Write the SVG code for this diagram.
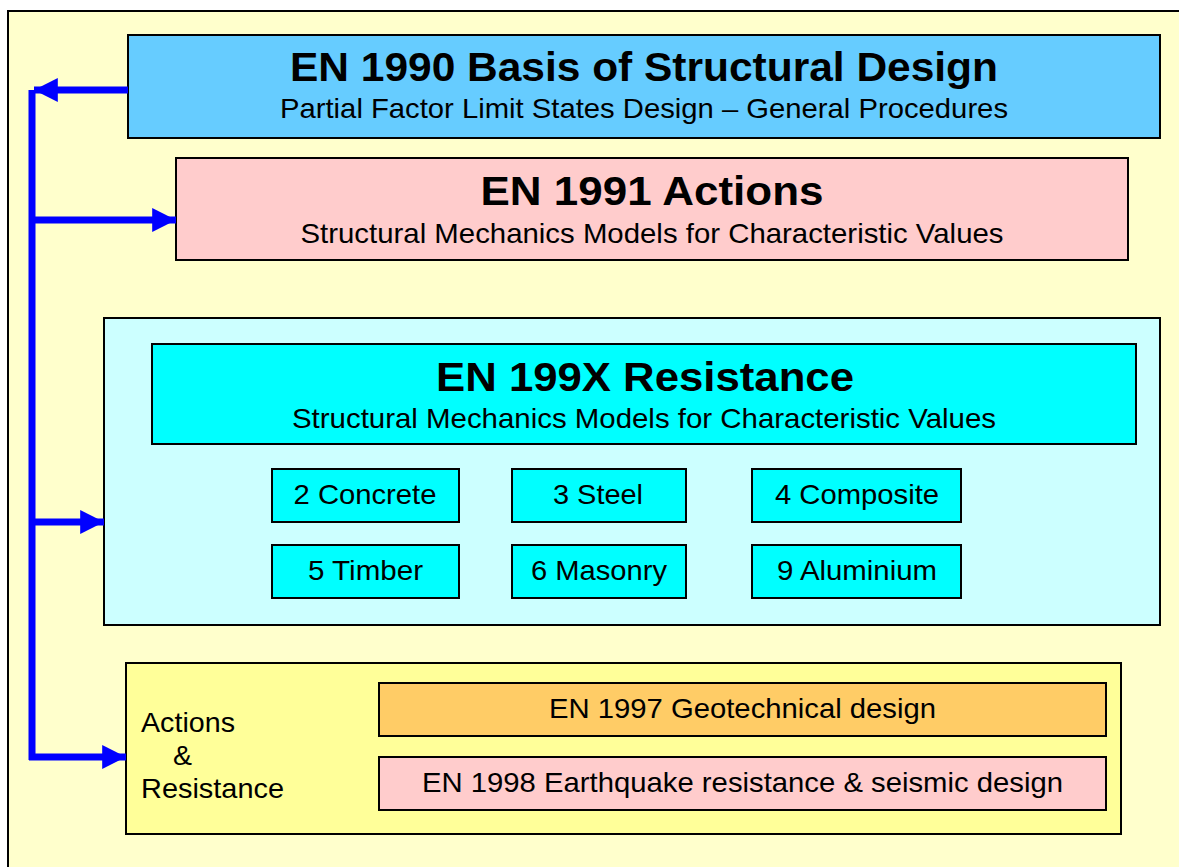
<svg xmlns="http://www.w3.org/2000/svg" width="1179" height="867" viewBox="0 0 1179 867">
<style>
.box{stroke:#000;stroke-width:2}
.t{font-family:"Liberation Sans",Arial,sans-serif;fill:#000}
.h{font-size:41px;font-weight:bold;text-anchor:middle}
.s{font-size:28px;text-anchor:middle}
.m{font-size:28px}
.c{fill:none;stroke:#0000FF;stroke-width:7}
</style>
<defs>
<marker id="ah" viewBox="0 0 10 10" refX="10" refY="5" markerWidth="3.4" markerHeight="3.4" orient="auto" markerUnits="strokeWidth">
<path d="M0,0 L10,5 L0,10 z" fill="#0000FF"/>
</marker>
</defs>
<rect x="0" y="0" width="1179" height="867" fill="#fff"/>
<rect x="8" y="11" width="1180" height="870" fill="#FFFFCC" stroke="#000" stroke-width="2"/>

<g id="en1990">
<rect class="box" x="128" y="35" width="1032" height="103" fill="#66CCFF"/>
<text class="t h" x="644" y="81" textLength="708" lengthAdjust="spacingAndGlyphs">EN 1990 Basis of Structural Design</text>
<text class="t s" x="644" y="118" textLength="728" lengthAdjust="spacingAndGlyphs">Partial Factor Limit States Design – General Procedures</text>
</g>

<g id="en1991">
<rect class="box" x="176" y="158" width="952" height="102" fill="#FFCCCC"/>
<text class="t h" x="652" y="205" textLength="343" lengthAdjust="spacingAndGlyphs">EN 1991 Actions</text>
<text class="t s" x="652" y="243" textLength="703" lengthAdjust="spacingAndGlyphs">Structural Mechanics Models for Characteristic Values</text>
</g>

<g id="en199x">
<rect class="box" x="104" y="318" width="1056" height="307" fill="#CCFFFF"/>
<rect class="box" x="152" y="344" width="984" height="100" fill="#00FFFF"/>
<text class="t h" x="645" y="391" textLength="418" lengthAdjust="spacingAndGlyphs">EN 199X Resistance</text>
<text class="t s" x="644" y="428" textLength="704" lengthAdjust="spacingAndGlyphs">Structural Mechanics Models for Characteristic Values</text>
</g>

<g id="concrete"><rect class="box" x="272" y="469" width="187" height="53" fill="#00FFFF"/><text class="t s" x="365" y="504" textLength="143" lengthAdjust="spacingAndGlyphs">2 Concrete</text></g>
<g id="steel"><rect class="box" x="512" y="469" width="174" height="53" fill="#00FFFF"/><text class="t s" x="598" y="504" textLength="90" lengthAdjust="spacingAndGlyphs">3 Steel</text></g>
<g id="composite"><rect class="box" x="752" y="469" width="209" height="53" fill="#00FFFF"/><text class="t s" x="857" y="504" textLength="164" lengthAdjust="spacingAndGlyphs">4 Composite</text></g>
<g id="timber"><rect class="box" x="272" y="545" width="187" height="53" fill="#00FFFF"/><text class="t s" x="365.5" y="580" textLength="115" lengthAdjust="spacingAndGlyphs">5 Timber</text></g>
<g id="masonry"><rect class="box" x="512" y="545" width="174" height="53" fill="#00FFFF"/><text class="t s" x="599" y="580" textLength="136" lengthAdjust="spacingAndGlyphs">6 Masonry</text></g>
<g id="aluminium"><rect class="box" x="752" y="545" width="209" height="53" fill="#00FFFF"/><text class="t s" x="857" y="580" textLength="160" lengthAdjust="spacingAndGlyphs">9 Aluminium</text></g>

<g id="actions-resistance">
<rect class="box" x="126" y="663" width="995" height="171" fill="#FFFF99"/>
<text class="t m" x="141" y="732" textLength="94" lengthAdjust="spacingAndGlyphs">Actions</text>
<text class="t m" x="173" y="765" textLength="19" lengthAdjust="spacingAndGlyphs">&amp;</text>
<text class="t m" x="141" y="798" textLength="143" lengthAdjust="spacingAndGlyphs">Resistance</text>
</g>
<g id="en1997"><rect class="box" x="379" y="683" width="727" height="53" fill="#FFCC66"/><text class="t s" x="742.5" y="718" textLength="387" lengthAdjust="spacingAndGlyphs">EN 1997 Geotechnical design</text></g>
<g id="en1998"><rect class="box" x="379" y="757" width="727" height="53" fill="#FFCCCC"/><text class="t s" x="742.5" y="792" textLength="641" lengthAdjust="spacingAndGlyphs">EN 1998 Earthquake resistance &amp; seismic design</text></g>

<g id="connectors">
<line class="c" x1="32" y1="90" x2="32" y2="760"/>
<line class="c" x1="128" y1="90" x2="34" y2="90" marker-end="url(#ah)"/>
<line class="c" x1="29" y1="220" x2="176" y2="220" marker-end="url(#ah)"/>
<line class="c" x1="29" y1="522" x2="104" y2="522" marker-end="url(#ah)"/>
<line class="c" x1="29" y1="757" x2="126" y2="757" marker-end="url(#ah)"/>
</g>
</svg>
